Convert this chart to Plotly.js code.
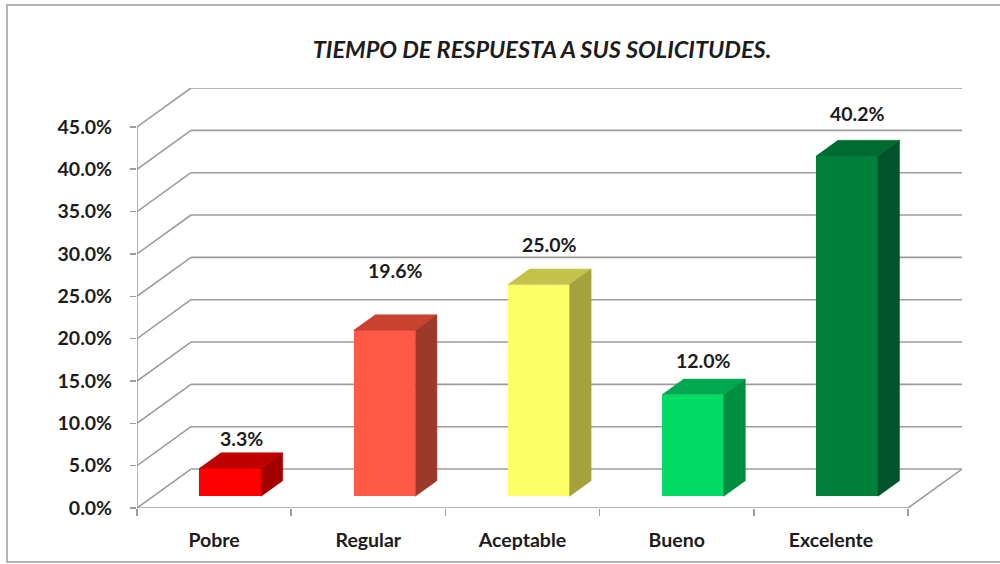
<!DOCTYPE html>
<html>
<head>
<meta charset="utf-8">
<script src="https://cdn.plot.ly/plotly-3.0.1.min.js"></script>
<style>
  html, body { margin: 0; padding: 0; background: #ffffff; }
  #chart { width: 1000px; height: 564px; }
</style>
</head>
<body>
<div id="chart"></div>
<script>
// ---- data ----
const categories = ['Pobre', 'Regular', 'Aceptable', 'Bueno', 'Excelente'];
const values = [3.3, 19.6, 25.0, 12.0, 40.2];
const valueLabels = ['3.3%', '19.6%', '25.0%', '12.0%', '40.2%'];
const yTickValues = [0, 5, 10, 15, 20, 25, 30, 35, 40, 45];
const yTickLabels = ['0.0%', '5.0%', '10.0%', '15.0%', '20.0%', '25.0%', '30.0%', '35.0%', '40.0%', '45.0%'];

// ---- styles ----
const frontColors = ['#FF0000', '#FF5946', '#FFFF66', '#00DC64', '#007F3B'];
const topColors   = ['#C00000', '#C9412F', '#C4C24A', '#00A850', '#006B30'];
const sideColors  = ['#A30000', '#9B3A2B', '#A5A23E', '#008F40', '#00532A'];
const labelLift = [14, 44, 25, 19, 27]; // px above bar top
const textColor = '#1c1c1c';
const gridColor = '#9c9c9c';
const FONT = 'Lato, "Open Sans", sans-serif';
const LABEL_SIZE = 19.5;

// 3D projection parameters (in axis units)
const DX = 0.35;   // wall depth along x (category units)
const DY = 4.6;    // wall depth along y (percent units)
const F0 = 0.30;   // front plane of bars as fraction of depth
const BD = 0.40;   // bar depth as fraction of depth
const BW = 0.40;   // bar width
const FX = F0 * DX, FY = F0 * DY;
const BDX = BD * DX, BDY = BD * DY;
const n = categories.length;
const xMin = -0.5, xMax = n - 0.5;
const yTop = yTickValues[yTickValues.length - 1];

const idx = categories.map((_, i) => i);

const traces = [];
// front faces: real bars
traces.push({
  type: 'bar',
  x: idx.map(i => i + FX),
  y: values,
  base: FY,
  width: BW,
  marker: { color: frontColors, line: { width: 0 } },
  hoverinfo: 'skip',
  showlegend: false
});
// top and side faces
values.forEach((v, i) => {
  const xl = i + FX - BW / 2, xr = i + FX + BW / 2, top = FY + v;
  traces.push({
    type: 'scatter', mode: 'lines', fill: 'toself',
    x: [xl, xr, xr + BDX, xl + BDX, xl],
    y: [top, top, top + BDY, top + BDY, top],
    fillcolor: topColors[i], line: { color: topColors[i], width: 0.5 },
    hoverinfo: 'skip', showlegend: false
  });
  traces.push({
    type: 'scatter', mode: 'lines', fill: 'toself',
    x: [xr, xr + BDX, xr + BDX, xr, xr],
    y: [FY, FY + BDY, top + BDY, top, FY],
    fillcolor: sideColors[i], line: { color: sideColors[i], width: 0.5 },
    hoverinfo: 'skip', showlegend: false
  });
});

// walls and floor as shapes derived from ticks
const shapes = [];
const gl = { color: gridColor, width: 1.6 };
yTickValues.forEach(v => {
  shapes.push({ type: 'line', xref: 'x', yref: 'y', layer: 'below',
    x0: xMin + DX, y0: v + DY, x1: xMax + DX, y1: v + DY, line: gl });
  shapes.push({ type: 'line', xref: 'x', yref: 'y', layer: 'below',
    x0: xMin, y0: v, x1: xMin + DX, y1: v + DY, line: gl });
});
shapes.push({ type: 'line', xref: 'x', yref: 'y', layer: 'below',
  x0: xMin, y0: 0, x1: xMin, y1: yTop, line: gl });
shapes.push({ type: 'line', xref: 'x', yref: 'y', layer: 'below',
  x0: xMin, y0: 0, x1: xMax, y1: 0, line: gl });
shapes.push({ type: 'line', xref: 'x', yref: 'y', layer: 'below',
  x0: xMax, y0: 0, x1: xMax + DX, y1: DY, line: gl });
// outer chart border
shapes.push({ type: 'rect', xref: 'paper', yref: 'paper', layer: 'below',
  x0: (7 - 137) / 825, x1: (1010 - 137) / 825,
  y0: (508 - 562) / 420, y1: (508 - 5) / 420,
  line: { color: '#b4b4b4', width: 2 } });

const annotations = values.map((v, i) => ({
  x: i + FX + BDX / 2, y: FY + v + BDY, xref: 'x', yref: 'y',
  text: valueLabels[i], showarrow: false, yanchor: 'middle', yshift: labelLift[i],
  font: { family: FONT, size: LABEL_SIZE, color: textColor, weight: 'bold' }
}));

const layout = {
  width: 1000, height: 564,
  margin: { l: 137, r: 38, t: 88, b: 56 },
  paper_bgcolor: '#ffffff', plot_bgcolor: 'rgba(0,0,0,0)',
  title: {
    text: 'TIEMPO DE RESPUESTA A SUS SOLICITUDES.',
    x: 0.542, xanchor: 'center', y: 1 - 50 / 564, yanchor: 'middle',
    font: { family: FONT, size: 23.5, color: textColor, weight: 'bold', style: 'italic' }
  },
  xaxis: {
    type: 'linear', range: [xMin, xMax + DX], fixedrange: true,
    tickmode: 'array', tickvals: idx, ticktext: categories,
    ticks: '', showgrid: false, zeroline: false, showline: false,
    ticklabelstandoff: 18,
    tickfont: { family: FONT, size: LABEL_SIZE, color: textColor, weight: 'bold' },
    minor: { tickmode: 'array', tickvals: idx.concat([n]).map(i => i - 0.5),
      ticks: 'outside', ticklen: 7, tickwidth: 1.6, tickcolor: gridColor, showgrid: false }
  },
  yaxis: {
    range: [0, yTop + DY], fixedrange: true,
    tickmode: 'array', tickvals: yTickValues, ticktext: yTickLabels,
    ticks: 'outside', ticklen: 6, tickwidth: 1.6, tickcolor: gridColor,
    showgrid: false, zeroline: false, showline: false,
    ticklabelstandoff: 14,
    tickfont: { family: FONT, size: LABEL_SIZE, color: textColor, weight: 'bold' }
  },
  shapes: shapes,
  annotations: annotations,
  showlegend: false,
  bargap: 0
};

Plotly.newPlot('chart', traces, layout, { staticPlot: true, displayModeBar: false });
</script>
</body>
</html>
